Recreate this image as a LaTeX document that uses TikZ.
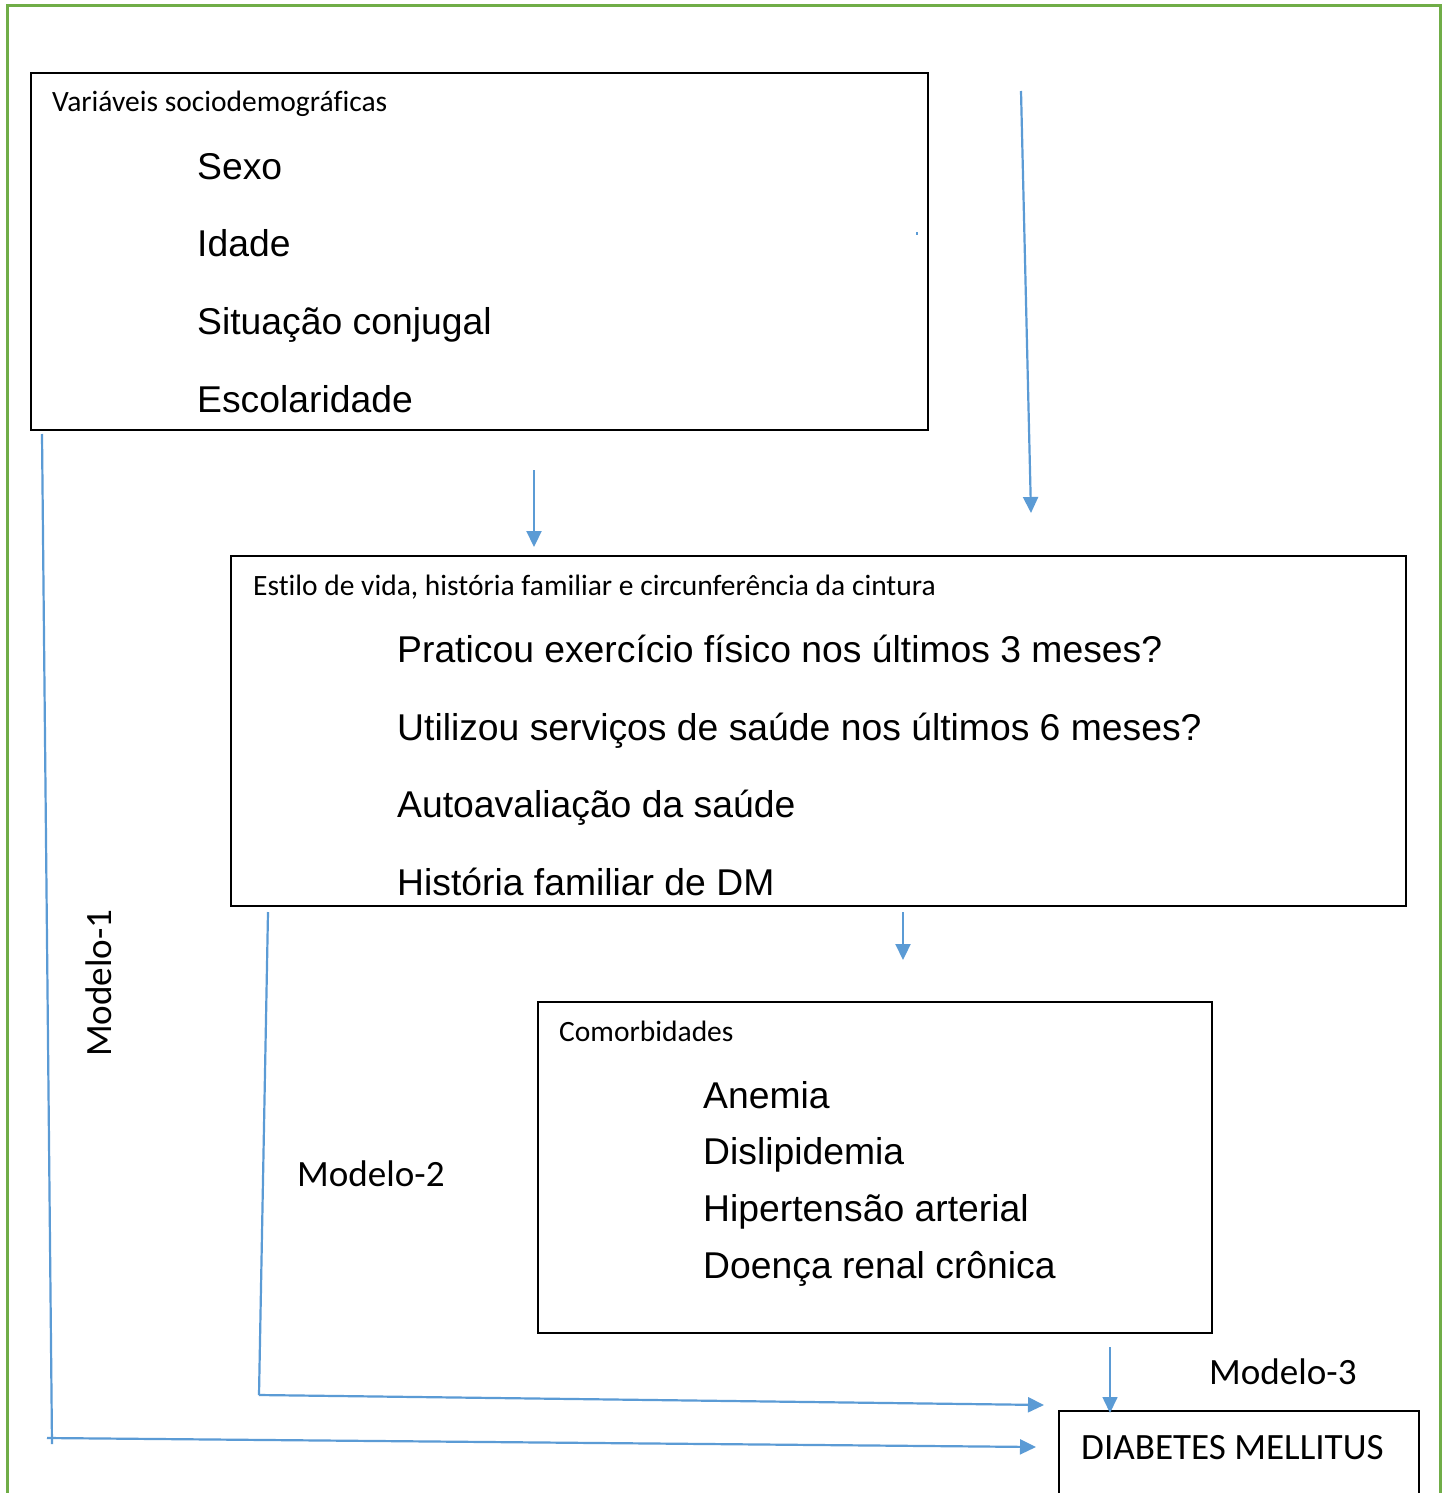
\documentclass[tikz,border=0pt]{standalone}
\usepackage{fontspec}
\setmainfont{Liberation Sans}
\newfontfamily\calib[RawFeature=-liga]{Carlito}
\usetikzlibrary{arrows.meta}
\definecolor{arrowblue}{HTML}{5B9BD5}
\definecolor{framegreen}{HTML}{70AD47}
\tikzset{
  boxframe/.style={draw=black,line width=2.6pt},
  conn/.style={draw=arrowblue,line width=2.2pt},
  arr/.style={conn,-{Triangle[length=16pt,width=15pt]}},
  big/.style={anchor=base west,inner sep=0pt,font=\fontsize{37.3}{44}\selectfont},
  mid/.style={anchor=base west,inner sep=0pt,font=\calib\fontsize{29.5}{34}\selectfont},
  lab/.style={anchor=base west,inner sep=0pt,font=\calib\fontsize{37.1}{42}\selectfont},
}
\begin{document}
\begin{tikzpicture}[x=1pt,y=-1pt]
\useasboundingbox (0,0) rectangle (1450,1493);
\fill[white] (0,0) rectangle (1450,1493);
% outer green frame (runs past the bottom edge)
\draw[framegreen,line width=3pt] (7,1520) -- (7,6) -- (1440,6) -- (1440,1520);
% boxes
\draw[boxframe] (31,73) rectangle (928,430);
\draw[boxframe] (231,556) rectangle (1406,906);
\draw[boxframe] (538,1002) rectangle (1212,1333);
\draw[boxframe] (1059,1520) -- (1059,1411) -- (1419,1411) -- (1419,1520);
% box 1 text
\node[mid] (t1) at (52,112) {Variáveis sociodemográficas};
\node[big] (s1) at (197,179) {Sexo};
\node[big] (s2) at (197,256) {Idade};
\node[big] (s3) at (197,334) {Situação conjugal};
\node[big] (s4) at (197,412) {Escolaridade};
% box 2 text
\node[mid] (t2) at (253,595) {Estilo de vida, história familiar e circunferência da cintura};
\node[big] (e1) at (397,662) {Praticou exercício físico nos últimos 3 meses?};
\node[big] (e2) at (397,740) {Utilizou serviços de saúde nos últimos 6 meses?};
\node[big] (e3) at (397,817) {Autoavaliação da saúde};
\node[big] (e4) at (397,895) {História familiar de DM};
% box 3 text
\node[mid] (t3) at (559,1041) {Comorbidades};
\node[big] (c1) at (703,1108) {Anemia};
\node[big] (c2) at (703,1164) {Dislipidemia};
\node[big] (c3) at (703,1221) {Hipertensão arterial};
\node[big] (c4) at (703,1278) {Doença renal crônica};
% outcome
\node[lab] (dm) at (1081,1459) {DIABETES MELLITUS};
% model labels
\node[lab,rotate=90] (m1) at (111,1057) {Modelo-1};
\node[lab] (m2) at (297,1186) {Modelo-2};
\node[lab] (m3) at (1209,1384) {Modelo-3};
% arrows
\coordinate (a1s) at (1021,91);   \coordinate (a1e) at (1031,513);
\coordinate (a2s) at (534,470);   \coordinate (a2e) at (534,547);
\coordinate (a3s) at (903,912);   \coordinate (a3e) at (903,960);
\coordinate (a4s) at (1110,1347); \coordinate (a4e) at (1110,1413);
\draw[arr] (a1s) -- (a1e);
\draw[arr] (a2s) -- (a2e);
\draw[arr] (a3s) -- (a3e);
\draw[arr,line width=1.6pt] (a4s) -- (a4e);
% Modelo-1 path
\coordinate (p1a) at (42,434);
\coordinate (p1b) at (52,1444);
\coordinate (p1c) at (47,1438);
\coordinate (p1d) at (1036,1447);
\draw[conn] (p1a) -- (p1b);
\draw[arr] (p1c) -- (p1d);
% Modelo-2 path
\coordinate (p2a) at (268,912);
\coordinate (p2b) at (259,1395);
\coordinate (p2c) at (1044,1405);
\draw[conn] (p2a) -- (p2b);
\draw[arr] (p2b) -- (p2c);
% tiny stray dot
\fill[arrowblue] (916,232) rectangle (918,235);
\end{tikzpicture}
\end{document}
